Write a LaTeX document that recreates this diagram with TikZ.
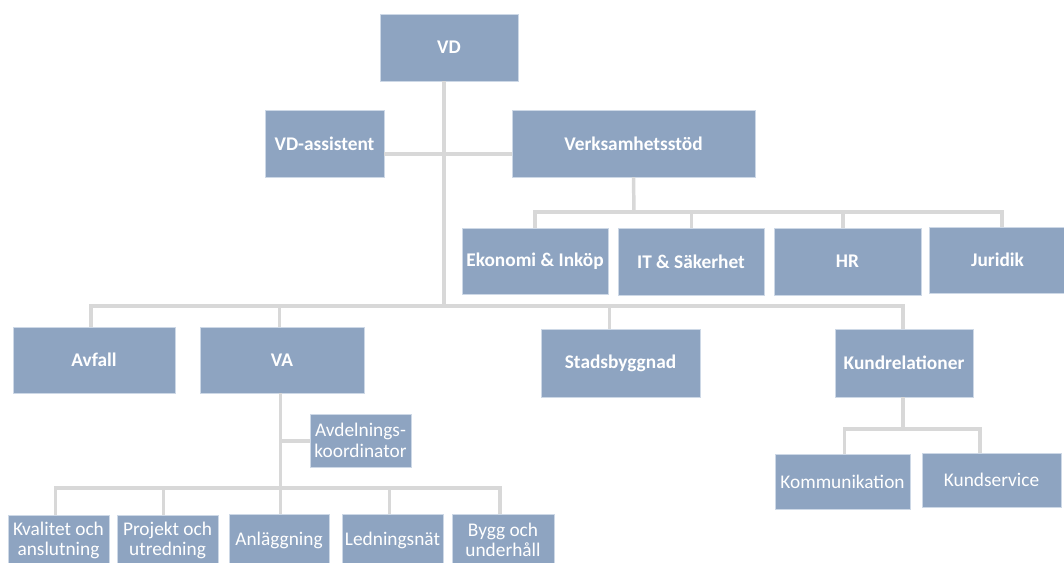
\documentclass[tikz,border=0pt]{standalone}
\usepackage{fontspec}
\setmainfont{Carlito}
\usetikzlibrary{calc}
\definecolor{boxfill}{RGB}{142,164,193}
\definecolor{boxline}{RGB}{205,216,230}
\definecolor{connc}{RGB}{216,216,216}
\tikzset{
  box/.style={draw=boxline, line width=0.6pt, fill=boxfill, text=white,
    inner sep=0pt, align=center, anchor=center,
    font=\fontsize{14.5}{15.5}\selectfont\bfseries},
  subbox/.style={box, font=\fontsize{14.5}{15.5}\selectfont},
  conn/.style={draw=connc, line width=2.6pt},
}
\newcommand{\bx}[7]{% style, name, cx, cy, w, h, text
  \node[#1, minimum width=#5*0.75pt, minimum height=#6*0.75pt] (#2) at (#3,#4) {#7};}
\begin{document}
\begin{tikzpicture}[x=0.75pt,y=-0.75pt]
\useasboundingbox (0,0) rectangle (1064,563);
\clip (0,0) rectangle (1064,563);
\fill[white] (0,0) rectangle (1064,563);

% coordinates on buses
\coordinate (trunk) at (444,306);
\coordinate (asst) at (444,154);
\coordinate (vb) at (634,212);
\coordinate (d1) at (535,212);
\coordinate (d2) at (691.5,212);
\coordinate (d3) at (843,212);
\coordinate (d4) at (1002,212);
\coordinate (m1) at (91,306);
\coordinate (m2) at (279.5,306);
\coordinate (m3) at (609.5,306);
\coordinate (m4) at (903,306);
\coordinate (va) at (280.5,488);
\coordinate (vak) at (280.5,441);
\coordinate (b1) at (55.5,488);
\coordinate (b2) at (163.5,488);
\coordinate (b4) at (389.5,488);
\coordinate (b5) at (500,488);
\coordinate (kb) at (903,429);
\coordinate (k1) at (844.5,429);
\coordinate (k2) at (980,429);

% boxes
\bx{box}{VD}{449}{47.5}{138}{67}{VD}
\bx{box}{VDa}{324.5}{143.5}{119}{67}{VD-assistent}
\bx{box}{Verk}{633.5}{143.5}{243}{67}{Verksamhetsstöd}
\bx{box}{Ekon}{535}{261}{146}{66}{Ekonomi \& Inköp}
\bx{box}{IT}{691}{261.5}{146}{67}{IT \& Säkerhet}
\bx{box}{HR}{847.5}{261.5}{147}{67}{HR}
\bx{box}{Jur}{997.5}{260}{137}{66}{Juridik}
\bx{box}{Avf}{94}{360}{162}{66}{Avfall}
\bx{box}{VA}{282}{360}{164}{66}{VA}
\bx{box}{Stad}{620.5}{363}{159}{68}{Stadsbyggnad}
\bx{box}{Kund}{904}{363}{138}{68}{Kundrelationer}
\bx{subbox}{Avd}{360.5}{440.5}{101}{53}{Avdelnings-\\koordinator}
\bx{subbox}{Komm}{842.5}{481.5}{135}{55}{Kommunikation}
\bx{subbox}{Kserv}{991.5}{480}{139}{54}{Kundservice}
\bx{subbox}{Kval}{58.5}{540.5}{101}{51}{Kvalitet och\\anslutning}
\bx{subbox}{Proj}{167.5}{540.5}{101}{51}{Projekt och\\utredning}
\bx{subbox}{Anl}{279}{540}{100}{52}{Anläggning}
\bx{subbox}{Led}{392.5}{540}{101}{52}{Ledningsnät}
\bx{subbox}{Bygg}{503}{540}{102}{52}{Bygg och\\underhåll}

% connectors
\draw[conn] (VD.south -| trunk) -- (trunk);
\draw[conn] (VDa.east |- asst) -- (Verk.west |- asst);
\draw[conn] (Verk.south) -- (vb);
\draw[conn] (Ekon.north -| d1) -- (d1) -- (d4) -- (Jur.north -| d4);
\draw[conn] (d2) -- (IT.north -| d2);
\draw[conn] (d3) -- (HR.north -| d3);
\draw[conn] (Avf.north -| m1) -- (m1) -- (m4) -- (Kund.north -| m4);
\draw[conn] (m2) -- (VA.north -| m2);
\draw[conn] (m3) -- (Stad.north -| m3);
\draw[conn] (VA.south -| va) -- (va);
\draw[conn] (vak) -- (Avd.west |- vak);
\draw[conn] (Kval.north -| b1) -- (b1) -- (b5) -- (Bygg.north -| b5);
\draw[conn] (b2) -- (Proj.north -| b2);
\draw[conn] (va) -- (Anl.north -| va);
\draw[conn] (b4) -- (Led.north -| b4);
\draw[conn] (Kund.south -| kb) -- (kb);
\draw[conn] (Komm.north -| k1) -- (k1) -- (k2) -- (Kserv.north -| k2);
\end{tikzpicture}
\end{document}
